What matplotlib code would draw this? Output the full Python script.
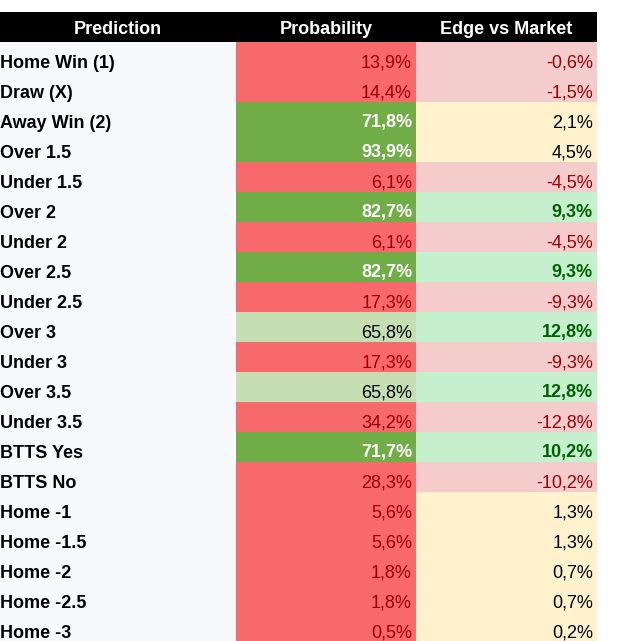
import matplotlib
matplotlib.use("Agg")
import matplotlib.pyplot as plt
from matplotlib.patches import Rectangle

predictions = ["Home Win (1)", "Draw (X)", "Away Win (2)", "Over 1.5", "Under 1.5",
               "Over 2", "Under 2", "Over 2.5", "Under 2.5", "Over 3", "Under 3",
               "Over 3.5", "Under 3.5", "BTTS Yes", "BTTS No", "Home -1",
               "Home -1.5", "Home -2", "Home -2.5", "Home -3"]
probability = [13.9, 14.4, 71.8, 93.9, 6.1, 82.7, 6.1, 82.7, 17.3, 65.8, 17.3,
               65.8, 34.2, 71.7, 28.3, 5.6, 5.6, 1.8, 1.8, 0.5]
edge = [-0.6, -1.5, 2.1, 4.5, -4.5, 9.3, -4.5, 9.3, -9.3, 12.8, -9.3, 12.8,
        -12.8, 10.2, -10.2, 1.3, 1.3, 0.7, 0.7, 0.2]
headers = ["Prediction", "Probability", "Edge vs Market"]

W, H = 635, 641
fig = plt.figure(figsize=(W / 100, H / 100), dpi=100)
ax = fig.add_axes([0, 0, 1, 1])
ax.set_xlim(0, W)
ax.set_ylim(H, 0)
ax.axis("off")

plt.rcParams["font.family"] = ["Liberation Sans", "DejaVu Sans"]
FS = 13

col_x = [0, 236, 416, 597]
top = 12
hdr_h = 30
row_h = 30


def fmt(v):
    return f"{v:.1f}%".replace(".", ",")


# header
ax.add_patch(Rectangle((col_x[0], top), col_x[3] - col_x[0], hdr_h, color="black", lw=0))
for i, h in enumerate(headers):
    ax.text((col_x[i] + col_x[i + 1]) / 2, top + 21.5, h, ha="center", va="baseline",
            color="white", fontsize=FS, fontweight="bold")

# first column background
y0 = top + hdr_h
ax.add_patch(Rectangle((col_x[0], y0), col_x[1] - col_x[0], H - y0, color="#F7F9FC", lw=0))

for r, (name, p, e) in enumerate(zip(predictions, probability, edge)):
    y = y0 + r * row_h
    base = y + 25.5
    ax.text(col_x[0] + 0.5, base, name, ha="left", va="baseline", color="black",
            fontsize=FS, fontweight="bold")

    if p >= 70:
        pc, tc, fw = "#70AD47", "white", "bold"
    elif p >= 50:
        pc, tc, fw = "#C5DFB3", "black", "normal"
    else:
        pc, tc, fw = "#F8696B", "#9C0006", "normal"
    ax.add_patch(Rectangle((col_x[1], y), col_x[2] - col_x[1], row_h, color=pc, lw=0))
    ax.text(col_x[2] - 4, base, fmt(p), ha="right", va="baseline", color=tc,
            fontsize=FS, fontweight=fw)

    if e >= 5:
        ec, tc, fw = "#C6EFCE", "#006100", "bold"
    elif e >= 0:
        ec, tc, fw = "#FFF2CC", "black", "normal"
    else:
        ec, tc, fw = "#F4CCCC", "#9C0006", "normal"
    ax.add_patch(Rectangle((col_x[2], y), col_x[3] - col_x[2], row_h, color=ec, lw=0))
    ax.text(col_x[3] - 4, base, fmt(e), ha="right", va="baseline", color=tc,
            fontsize=FS, fontweight=fw)

fig.savefig("out.png", dpi=100)
